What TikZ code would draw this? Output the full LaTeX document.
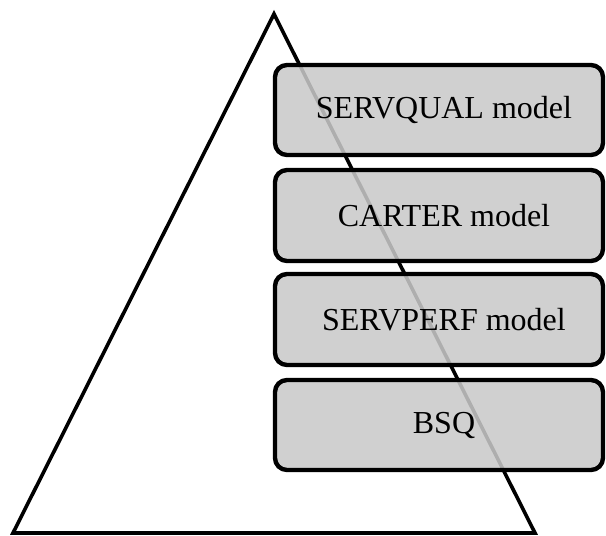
\documentclass[tikz,border=0pt]{standalone}
\usepackage{fontspec}
\setmainfont{Liberation Serif}
\begin{document}
\begin{tikzpicture}[x=0.5pt,y=-0.5pt,
  tri/.style={draw=black,line width=1.8pt,line join=miter},
  layerbox/.style={draw=black,line width=2.2pt,fill=black!21,fill opacity=0.87,rounded corners=6pt},
  layertext/.style={font=\fontsize{16pt}{19pt}\selectfont,text=black,inner sep=0pt}]
\useasboundingbox (0,0) rectangle (606,536);
\coordinate (apex) at (274,14);
\coordinate (bl) at (13,533);
\coordinate (br) at (535,533);
\draw[tri] (apex) -- (br) -- (bl) -- cycle;
\draw[layerbox] (275,65) rectangle (603,155);
\draw[layerbox] (275,170) rectangle (603,261);
\draw[layerbox] (275,274) rectangle (603,365);
\draw[layerbox] (275,380) rectangle (603,470);
\node[layertext] (l1) at (444,110) {SERVQUAL model};
\node[layertext] (l2) at (444,215.5) {CARTER model};
\node[layertext] (l3) at (444,319.5) {SERVPERF model};
\node[layertext] (l4) at (444,425) {BSQ};
\end{tikzpicture}
\end{document}
